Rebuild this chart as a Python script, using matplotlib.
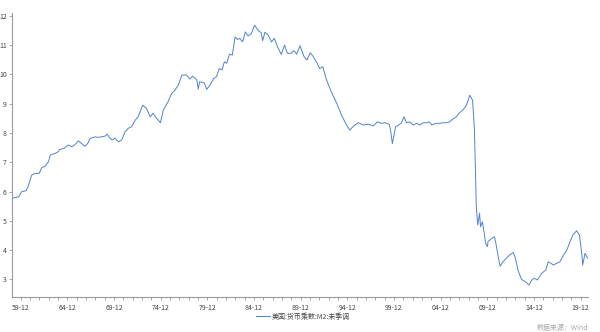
import matplotlib
matplotlib.use("Agg")
import matplotlib.pyplot as plt
from matplotlib.ticker import FixedLocator, FuncFormatter

plt.rcParams['font.family'] = ['Noto Sans CJK SC', 'DejaVu Sans']

# decimal years and M2 money multiplier values
years = [
    1959.0, 1959.4, 1959.7, 1960.0, 1960.5, 1960.7, 1961.1, 1961.45, 1961.9, 1962.2,
    1962.5, 1962.9, 1963.1, 1963.6, 1963.95, 1964.1, 1964.55, 1965.0, 1965.4, 1965.7,
    1966.1, 1966.45, 1966.8, 1967.1, 1967.35, 1967.9, 1968.2, 1968.6, 1968.95, 1969.2,
    1969.4, 1969.7, 1970.0, 1970.4, 1970.75, 1971.1, 1971.45, 1971.8, 1972.2, 1972.5,
    1973.0, 1973.4, 1973.8, 1974.1, 1974.5, 1974.9, 1975.2, 1975.7, 1976.1, 1976.45,
    1976.8, 1977.2, 1977.7, 1978.05, 1978.35, 1978.8, 1978.95, 1979.1, 1979.6, 1979.85,
    1980.2, 1980.6, 1980.9, 1981.2, 1981.5, 1981.75, 1982.0, 1982.3, 1982.6, 1982.9,
    1983.15, 1983.4, 1983.7, 1984.0, 1984.3, 1984.65, 1985.0, 1985.35, 1985.7, 1985.85,
    1986.1, 1986.45, 1986.8, 1987.1, 1987.45, 1987.85, 1988.2, 1988.5, 1988.9, 1989.2,
    1989.5, 1989.85, 1990.3, 1990.6, 1990.95, 1991.3, 1991.7, 1991.95, 1992.3, 1992.7,
    1993.2, 1993.8, 1994.3, 1994.85, 1995.2, 1995.6, 1996.1, 1996.65, 1997.2, 1997.7,
    1998.15, 1998.6, 1999.0, 1999.4, 1999.55, 1999.75, 1999.9, 2000.1, 2000.4, 2000.7,
    2001.0, 2001.25, 2001.6, 2002.0, 2002.35, 2002.7, 2003.05, 2003.4, 2003.7, 2004.0,
    2004.4, 2004.85, 2005.2, 2005.55, 2005.9, 2006.2, 2006.6, 2006.95, 2007.3, 2007.7,
    2008.05, 2008.35, 2008.55, 2008.75, 2008.9, 2009.1, 2009.2, 2009.4, 2009.6, 2009.75,
    2009.95, 2010.0, 2010.4, 2010.7, 2010.85, 2011.1, 2011.3, 2011.6, 2011.95, 2012.3,
    2012.7, 2012.9, 2013.25, 2013.6, 2014.1, 2014.4, 2014.7, 2014.95, 2015.3, 2015.75,
    2016.2, 2016.45, 2016.75, 2017.0, 2017.35, 2017.7, 2018.1, 2018.45, 2018.8, 2019.1,
    2019.5, 2019.8, 2020.05, 2020.15, 2020.4, 2020.7,
]
multiplier = [
    5.77, 5.80, 5.82, 5.99, 6.03, 6.16, 6.56, 6.62, 6.62, 6.83,
    6.85, 7.02, 7.25, 7.30, 7.36, 7.44, 7.47, 7.59, 7.53, 7.59,
    7.73, 7.64, 7.55, 7.64, 7.81, 7.87, 7.85, 7.87, 7.89, 7.96,
    7.85, 7.76, 7.82, 7.70, 7.76, 8.04, 8.16, 8.21, 8.44, 8.55,
    8.95, 8.84, 8.55, 8.67, 8.50, 8.35, 8.78, 9.06, 9.35, 9.46,
    9.63, 9.98, 9.98, 9.84, 9.94, 9.81, 9.50, 9.75, 9.71, 9.49,
    9.63, 9.86, 9.92, 10.20, 10.15, 10.43, 10.38, 10.69, 10.66, 11.28,
    11.19, 11.23, 11.11, 11.45, 11.31, 11.40, 11.68, 11.51, 11.42, 11.15,
    11.44, 11.34, 11.11, 11.23, 10.94, 10.68, 11.00, 10.72, 10.72, 10.81,
    10.69, 10.98, 10.60, 10.49, 10.74, 10.60, 10.38, 10.20, 10.26, 9.81,
    9.41, 9.01, 8.61, 8.27, 8.10, 8.24, 8.35, 8.27, 8.30, 8.24,
    8.38, 8.33, 8.35, 8.30, 8.12, 7.64, 7.87, 8.21, 8.27, 8.33,
    8.55, 8.35, 8.38, 8.27, 8.33, 8.27, 8.35, 8.35, 8.38, 8.27,
    8.33, 8.33, 8.35, 8.35, 8.38, 8.47, 8.55, 8.69, 8.78, 8.95,
    9.29, 9.12, 8.10, 5.48, 4.86, 5.26, 4.80, 4.97, 4.57, 4.23,
    4.12, 4.29, 4.40, 4.46, 4.23, 3.77, 3.45, 3.60, 3.72, 3.83,
    3.92, 3.77, 3.28, 3.00, 2.90, 2.81, 2.98, 3.04, 2.98, 3.21,
    3.32, 3.60, 3.55, 3.49, 3.55, 3.60, 3.83, 4.00, 4.29, 4.52,
    4.66, 4.52, 3.89, 3.49, 3.89, 3.72,
]

label_years = [1959, 1964, 1969, 1974, 1979, 1984, 1989, 1994, 1999, 2004, 2009, 2014, 2019]
y_ticks = [3, 4, 5, 6, 7, 8, 9, 10, 11, 12]
series_name = "美国:货币乘数:M2:未季调"
source_text = "数据来源：Wind"

fig = plt.figure(figsize=(6.0, 3.32), dpi=100)
ax = fig.add_axes([0.02, 0.1054, 0.96, 0.854])

line, = ax.plot(years, multiplier, color="#4F82D0", linewidth=0.7, label=series_name)

ax.set_xlim(1958.99, 2020.72)
ax.set_ylim(2.40, 12.08)

axis_color = "#9a9a9a"
for s in ["top", "right"]:
    ax.spines[s].set_visible(False)
for s in ["left", "bottom"]:
    ax.spines[s].set_color(axis_color)
    ax.spines[s].set_linewidth(0.8)

major_x = [y + 11 / 12 for y in label_years]
minor_x = [y + 11 / 12 for y in range(1958, 2021)]
ax.xaxis.set_major_locator(FixedLocator(major_x))
ax.xaxis.set_minor_locator(FixedLocator(minor_x))
ax.xaxis.set_major_formatter(FuncFormatter(lambda v, p: "%02d-12" % (int(round(v - 11 / 12)) % 100)))
ax.yaxis.set_major_locator(FixedLocator(y_ticks))

ax.tick_params(axis="x", which="both", direction="out", length=2.2, width=0.6,
               color=axis_color, labelsize=5.0, labelcolor="#444444", pad=2.5)
ax.tick_params(axis="y", which="major", direction="out", length=2.2, width=0.6,
               color=axis_color, labelsize=5.0, labelcolor="#444444", pad=1.5)

fig.legend(handles=[line], labels=[series_name], loc="center",
           bbox_to_anchor=(0.505, 1 - 316.5 / 332), frameon=False,
           fontsize=5.0, handlelength=2.0, handletextpad=0.2, labelcolor="#444444")

fig.text(0.98, 1 - 328 / 332, source_text, ha="right", va="center",
         fontsize=5.0, color="#aaaaaa")

fig.savefig("out.png", dpi=100)
